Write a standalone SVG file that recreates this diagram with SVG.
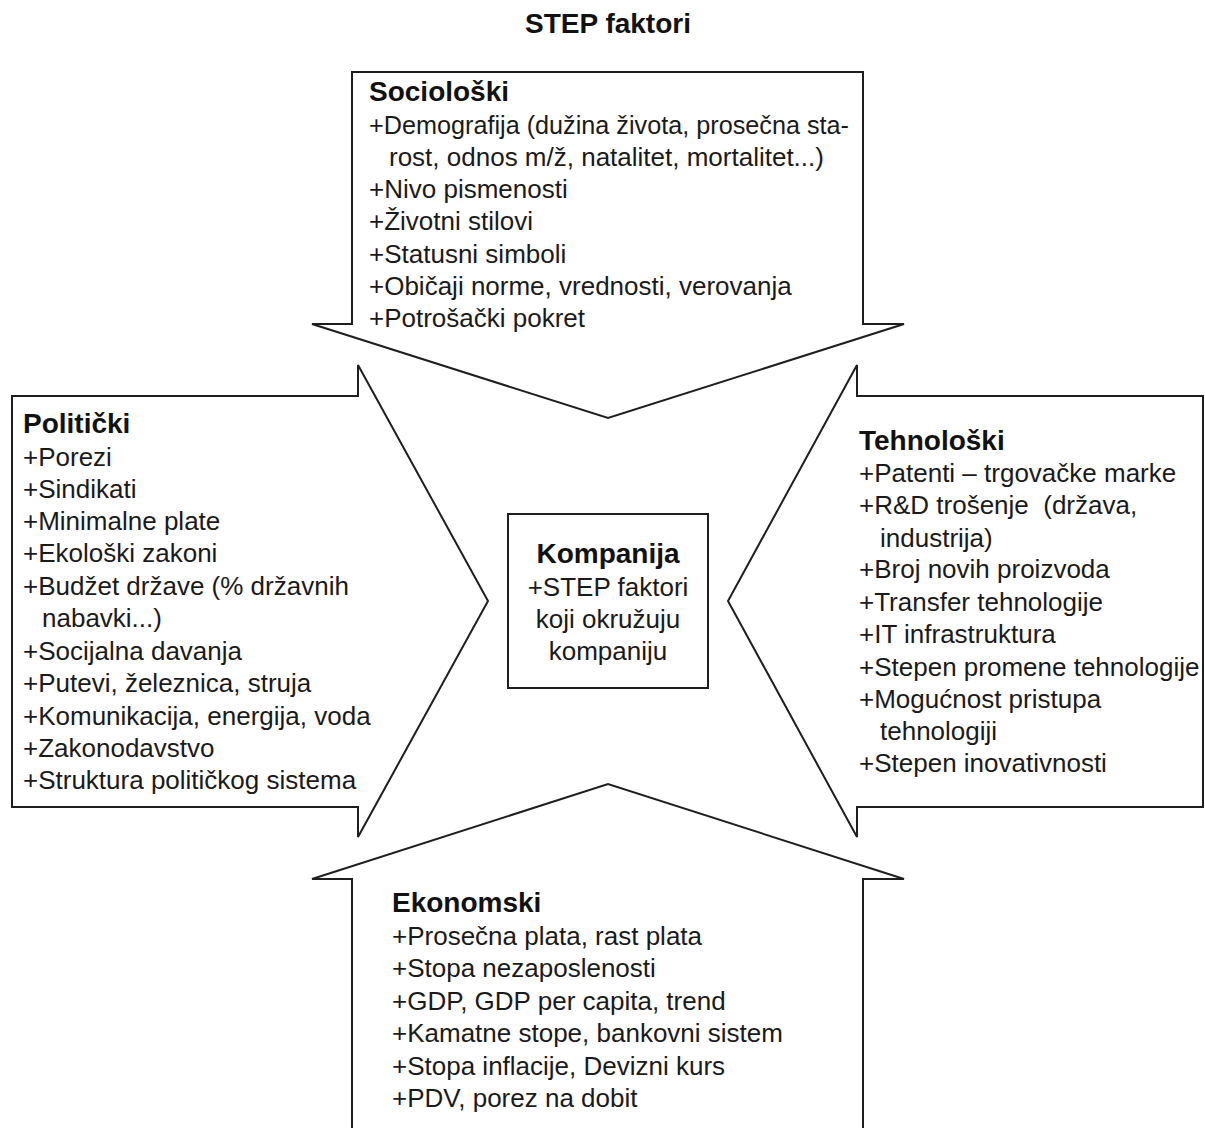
<svg xmlns="http://www.w3.org/2000/svg" width="1205" height="1128" viewBox="0 0 1205 1128">
  <style>
    .shape { fill: #ffffff; stroke: #1e1e1e; stroke-width: 2; stroke-linejoin: miter; }
    .t { font-family: "Liberation Sans", Arial, sans-serif; font-size: 26px; fill: #1a1a1a; }
    .h { font-family: "Liberation Sans", Arial, sans-serif; font-size: 28px; font-weight: bold; fill: #111111; }
    .c { text-anchor: middle; }
  </style>
  <rect x="0" y="0" width="1205" height="1128" fill="#ffffff"/>

  <text id="title" class="h c" x="608" y="33">STEP faktori</text>

  <g id="node-socioloski">
    <polygon class="shape" points="352,72 863,72 863,324 904,324 608,418 312,324 352,324"/>
    <text class="h" x="369" y="101">Sociološki</text>
    <text class="t" x="369" y="133.5" textLength="480" lengthAdjust="spacingAndGlyphs">+Demografija (dužina života, prosečna sta-</text>
    <text class="t" x="389" y="166">rost, odnos m/ž, natalitet, mortalitet...)</text>
    <text class="t" x="369" y="198">+Nivo pismenosti</text>
    <text class="t" x="369" y="230">+Životni stilovi</text>
    <text class="t" x="369" y="262.5">+Statusni simboli</text>
    <text class="t" x="369" y="295">+Običaji norme, vrednosti, verovanja</text>
    <text class="t" x="369" y="327">+Potrošački pokret</text>
  </g>

  <g id="node-politicki">
    <polygon class="shape" points="12,396 358,396 358,365 488,601 358,837 358,807 12,807"/>
    <text class="h" x="23" y="433">Politički</text>
    <text class="t" x="23" y="466">+Porezi</text>
    <text class="t" x="23" y="498">+Sindikati</text>
    <text class="t" x="23" y="530">+Minimalne plate</text>
    <text class="t" x="23" y="562">+Ekološki zakoni</text>
    <text class="t" x="23" y="595">+Budžet države (% državnih</text>
    <text class="t" x="42" y="627">nabavki...)</text>
    <text class="t" x="23" y="660">+Socijalna davanja</text>
    <text class="t" x="23" y="692">+Putevi, železnica, struja</text>
    <text class="t" x="23" y="725">+Komunikacija, energija, voda</text>
    <text class="t" x="23" y="757">+Zakonodavstvo</text>
    <text class="t" x="23" y="789">+Struktura političkog sistema</text>
  </g>

  <g id="node-tehnoloski">
    <polygon class="shape" points="1203,396 857,396 857,365 728,601 857,837 857,807 1203,807"/>
    <text class="h" x="859" y="450">Tehnološki</text>
    <text class="t" x="859" y="482">+Patenti – trgovačke marke</text>
    <text class="t" x="859" y="514" xml:space="preserve">+R&amp;D trošenje  (država,</text>
    <text class="t" x="880" y="547">industrija)</text>
    <text class="t" x="859" y="578">+Broj novih proizvoda</text>
    <text class="t" x="859" y="611">+Transfer tehnologije</text>
    <text class="t" x="859" y="643">+IT infrastruktura</text>
    <text class="t" x="859" y="676">+Stepen promene tehnologije</text>
    <text class="t" x="859" y="708">+Mogućnost pristupa</text>
    <text class="t" x="880" y="740">tehnologiji</text>
    <text class="t" x="859" y="772">+Stepen inovativnosti</text>
  </g>

  <g id="node-ekonomski">
    <path class="shape" d="M352,1135 L352,879 L312,879 L608,784 L904,879 L863,879 L863,1135"/>
    <text class="h" x="392" y="912">Ekonomski</text>
    <text class="t" x="392" y="944.5">+Prosečna plata, rast plata</text>
    <text class="t" x="392" y="977">+Stopa nezaposlenosti</text>
    <text class="t" x="392" y="1009.5">+GDP, GDP per capita, trend</text>
    <text class="t" x="392" y="1042">+Kamatne stope, bankovni sistem</text>
    <text class="t" x="392" y="1074.5">+Stopa inflacije, Devizni kurs</text>
    <text class="t" x="392" y="1107">+PDV, porez na dobit</text>
  </g>

  <g id="node-kompanija">
    <rect class="shape" x="508" y="514" width="200" height="174"/>
    <text class="h c" x="608" y="563">Kompanija</text>
    <text class="t c" x="608" y="596">+STEP faktori</text>
    <text class="t c" x="608" y="628">koji okružuju</text>
    <text class="t c" x="608" y="660">kompaniju</text>
  </g>

  <g id="connectors"></g>
</svg>
